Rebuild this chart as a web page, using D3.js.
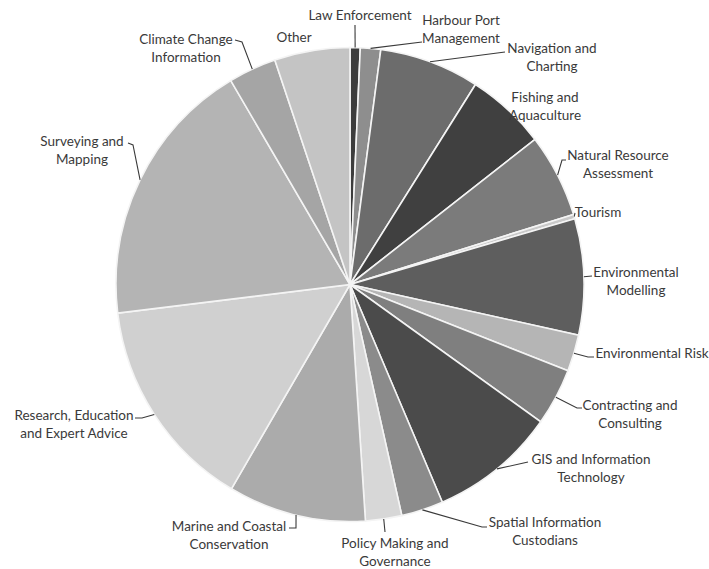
<!DOCTYPE html>
<html>
<head>
<meta charset="utf-8">
<script src="https://cdn.jsdelivr.net/npm/d3@7"></script>
<style>
  html, body { margin: 0; padding: 0; background: #fff; }
  svg { display: block; }
  text { font-family: Lato, "Open Sans", sans-serif; font-size: 13.5px; fill: #3a3a3a; }
</style>
</head>
<body>
<svg id="chart" width="709" height="569"></svg>
<script>
// ---- data ----
const categories = [
  "Law Enforcement", "Harbour Port Management", "Navigation and Charting",
  "Fishing and Aquaculture", "Natural Resource Assessment", "Tourism",
  "Environmental Modelling", "Environmental Risk", "Contracting and Consulting",
  "GIS and Information Technology", "Spatial Information Custodians",
  "Policy Making and Governance", "Marine and Coastal Conservation",
  "Research, Education and Expert Advice", "Surveying and Mapping",
  "Climate Change Information", "Other"
];
const values = [0.7, 1.4, 6.9, 5.5, 5.7, 0.3, 7.9, 2.5, 3.9, 8.7, 2.9, 2.5, 9.5, 14.6, 18.4, 3.3, 5.2];
const labelLines = [
  ["Law Enforcement"], ["Harbour Port", "Management"], ["Navigation and", "Charting"],
  ["Fishing  and", "Aquaculture"], ["Natural Resource", "Assessment"], ["Tourism"],
  ["Environmental", "Modelling"], ["Environmental  Risk"], ["Contracting and", "Consulting"],
  ["GIS and Information", "Technology"], ["Spatial Information", "Custodians"],
  ["Policy Making and", "Governance"], ["Marine and Coastal", "Conservation"],
  ["Research, Education", "and Expert Advice"], ["Surveying  and", "Mapping"],
  ["Climate Change", "Information"], ["Other"]
];

// ---- styles / layout ----
const colors = ["#3c3c3c", "#8e8e8e", "#6c6c6c", "#404040", "#7b7b7b", "#c9c9c9",
  "#5e5e5e", "#b5b5b5", "#7f7f7f", "#4b4b4b", "#8b8b8b", "#d7d7d7", "#ababab",
  "#d0d0d0", "#b4b4b4", "#a5a5a5", "#c4c4c4"];
// label anchor (center x, first-line center y), leader elbow points
const labelLayout = [
  { x: 360, y: 15, leader: [[355, 25]] },
  { x: 461, y: 20, leader: [[422, 42]] },
  { x: 552, y: 48, leader: [[505, 52]] },
  { x: 545, y: 97, leader: null },
  { x: 618, y: 155, leader: [[562, 160], [566, 160]] },
  { x: 598, y: 212, leader: [[575, 213]] },
  { x: 636, y: 272, leader: [[592, 276]] },
  { x: 652, y: 353, leader: [[588, 357], [594, 357]] },
  { x: 630, y: 405, leader: [[577, 408], [582, 408]] },
  { x: 591, y: 459, leader: [[528, 462]] },
  { x: 545, y: 522, leader: [[482, 527], [487, 527]] },
  { x: 395, y: 543, leader: [[385, 532]] },
  { x: 229, y: 526, leader: [[296, 528], [289, 528]] },
  { x: 74, y: 415, leader: [[142, 418], [135, 418]] },
  { x: 82, y: 141, leader: [[133, 145], [128, 143]] },
  { x: 186, y: 39, leader: [[242, 42], [235, 40]] },
  { x: 294, y: 37, leader: null }
];

const cx = 350, cy = 284.5, r = 234, sy = 237 / 234;

const svg = d3.select("#chart");
const pie = d3.pie().sort(null).value(d => d)(values);
const arc = d3.arc().innerRadius(0).outerRadius(r);
const edge = d3.arc().innerRadius(r).outerRadius(r);

const g = svg.append("g").attr("transform", `translate(${cx},${cy}) scale(1,${sy})`);
g.selectAll("path").data(pie).join("path")
  .attr("d", arc)
  .attr("fill", (d, i) => colors[i])
  .attr("stroke", "#f4f4f4")
  .attr("stroke-width", 1.6)
  .attr("vector-effect", "non-scaling-stroke");

// leaders
const leaderG = svg.append("g");
pie.forEach((d, i) => {
  const L = labelLayout[i];
  if (!L.leader) return;
  const c = edge.centroid(d);
  const start = [cx + c[0], cy + c[1] * sy];
  const pts = [start].concat(L.leader);
  leaderG.append("path")
    .attr("d", d3.line()(pts))
    .attr("fill", "none")
    .attr("stroke", "#3a3a3a")
    .attr("stroke-width", 1.1);
});

// labels
const labG = svg.append("g");
labelLines.forEach((lines, i) => {
  const L = labelLayout[i];
  const t = labG.append("text").attr("text-anchor", "middle");
  lines.forEach((s, k) => {
    t.append("tspan").attr("x", L.x).attr("y", L.y + k * 18 + 5).text(s);
  });
});
</script>
</body>
</html>
